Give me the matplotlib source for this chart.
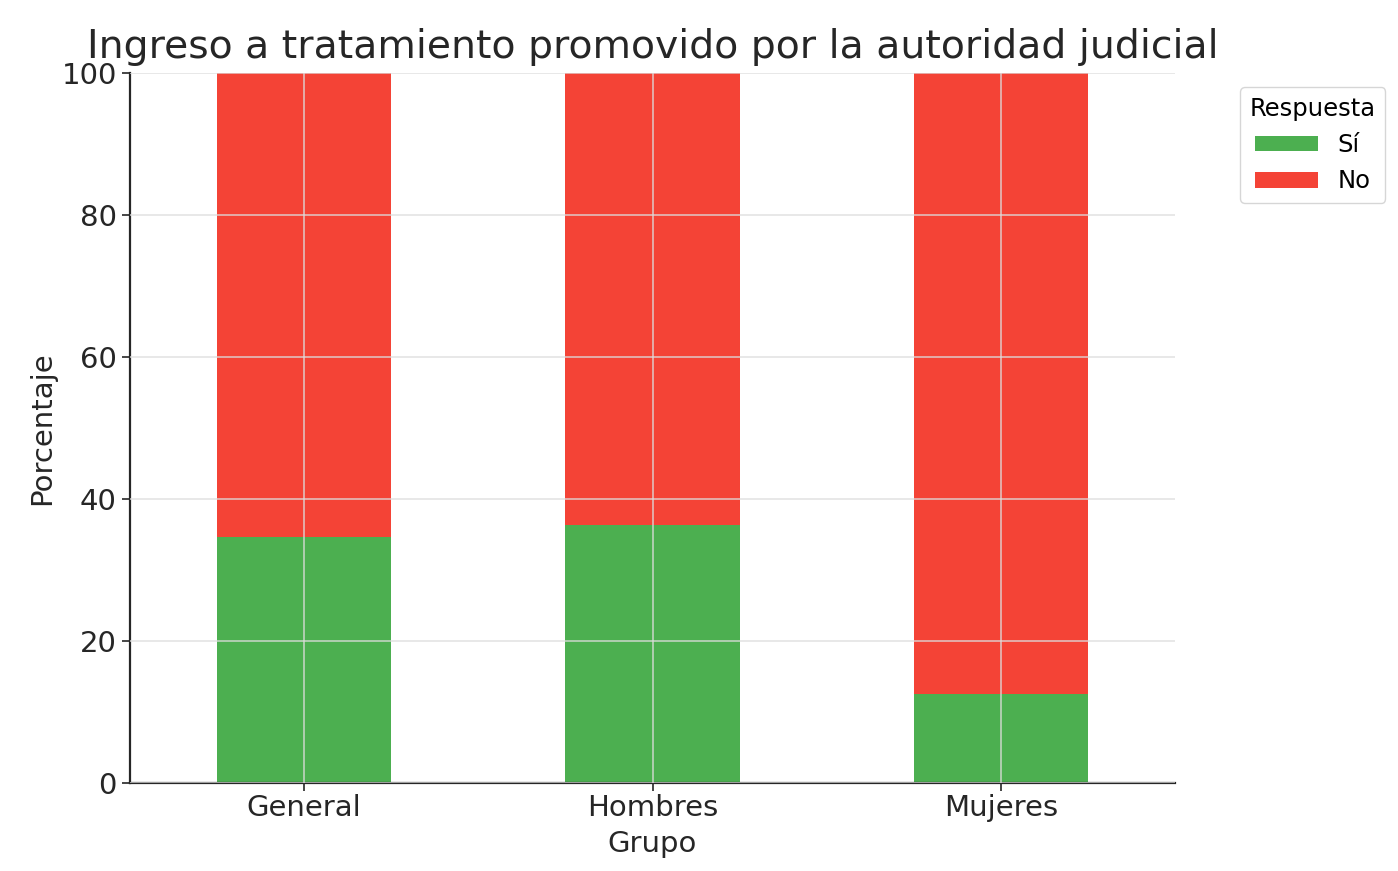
import matplotlib.pyplot as plt
import numpy as np

# === Data ===
grupos = ["General", "Hombres", "Mujeres"]
si_pct = [34.6, 36.4, 12.5]
no_pct = [65.4, 63.6, 87.5]

plt.rcParams['font.family'] = ['DejaVu Sans']

fig = plt.figure(figsize=(13.98, 8.71), dpi=100)
ax = fig.add_axes([0.093, 0.101, 0.7475, 0.815])

x = np.arange(len(grupos))
ax.bar(x, si_pct, width=0.5, color="#4CAF50", label="Sí", zorder=1)
ax.bar(x, no_pct, width=0.5, bottom=si_pct, color="#F44336", label="No", zorder=1)

ax.set_xlim(-0.5, 2.5)
ax.set_ylim(0, 100)
ax.set_xticks(x)
ax.set_xticklabels(grupos, rotation=0)
ax.set_yticks([0, 20, 40, 60, 80, 100])

ax.grid(True, color="#dddddd", linewidth=1.2, alpha=0.8, zorder=2)
ax.set_axisbelow(False)

for s in ["top", "right"]:
    ax.spines[s].set_visible(False)
for s in ["left", "bottom"]:
    ax.spines[s].set_color("#262626")
    ax.spines[s].set_linewidth(1.6)

ax.tick_params(axis="both", labelsize=21, colors="#262626", length=6, width=1.2)
ax.tick_params(axis="x", pad=2)
ax.set_title("Ingreso a tratamiento promovido por la autoridad judicial",
             fontsize=28.4, color="#262626", pad=11)
ax.set_xlabel("Grupo", fontsize=21, color="#262626", labelpad=6)
ax.set_ylabel("Porcentaje", fontsize=21, color="#262626")

leg = ax.legend(title="Respuesta", loc="upper left", bbox_to_anchor=(1.062, 0.98),
                borderaxespad=0, fontsize=17.5, title_fontsize=17.5, frameon=True,
                handlelength=2.6, handleheight=0.6)
leg.get_frame().set_edgecolor("#cccccc")

fig.savefig("out.png", dpi=100)
